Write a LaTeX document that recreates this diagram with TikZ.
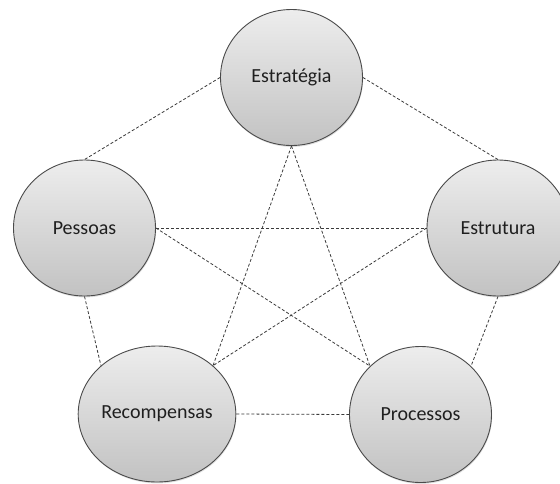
\documentclass[tikz,border=0pt]{standalone}
\usepackage{fontspec}
\setmainfont{Carlito}
\usepackage{tikz}
\usetikzlibrary{shapes.geometric}
\usetikzlibrary{shadows}

\definecolor{ballrim}{HTML}{4A4A4A}
\definecolor{balltop}{HTML}{EDEDED}
\definecolor{ballbottom}{HTML}{C2C2C2}
\definecolor{linkgray}{HTML}{3A3A3A}

\begin{document}
\begin{tikzpicture}[x=1pt,y=-1pt,
		ball/.style={ellipse,draw=ballrim,line width=0.9pt,top color=balltop,bottom color=ballbottom,
			minimum width=142pt,minimum height=136pt,inner sep=0pt,text=black!88,
			font=\fontsize{20}{24}\selectfont,
			drop shadow={opacity=0.25,shadow xshift=0.6pt,shadow yshift=-1.4pt}},
		link/.style={linkgray,line width=0.8pt,dash pattern=on 3pt off 2pt}]
			\useasboundingbox (0,0) rectangle (560,483);
			%the five circles
			\node[ball] (strategy) at (291.5,77.5) {Estratégia};
			\node[ball] (people) at (84.5,228) {Pessoas};
			\node[ball] (structure) at (498,228) {Estrutura};
			\node[ball] (rewards) at (157,414) {Recompensas};
			\node[ball] (processes) at (420.5,414.5) {Processos};
			%outer ring
			\draw[link] (strategy.west)--(people.north);
			\draw[link] (strategy.east)--(structure.north);
			\draw[link] (people.south)--(rewards.north west);
			\draw[link] (structure.south)--(processes.north east);
			\draw[link] (rewards.east)--(processes.west);
			%inner star
			\draw[link] (strategy.south)--(rewards.north east);
			\draw[link] (strategy.south)--(processes.north west);
			\draw[link] (people.east)--(structure.west);
			\draw[link] (people.east)--(processes.north west);
			\draw[link] (structure.west)--(rewards.north east);
		\end{tikzpicture}
\end{document}
